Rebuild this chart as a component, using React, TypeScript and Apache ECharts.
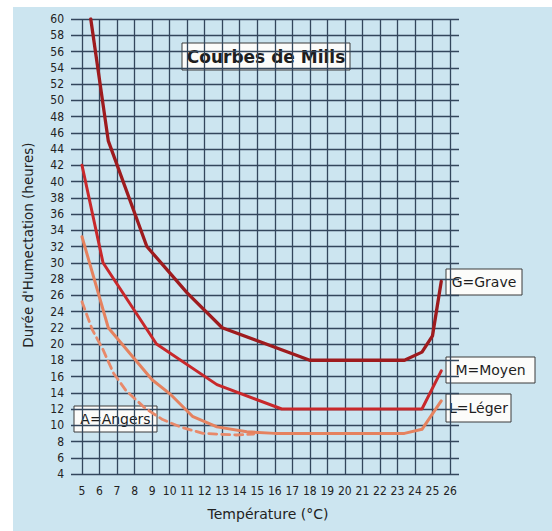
import React, { useEffect, useRef } from "react";
import * as echarts from "echarts";

// Temperature (°C) vs wetting duration (hours)
const grave: [number, number][] = [
  [5.5, 60], [6.5, 45], [8.7, 32], [11, 26.3], [13, 22], [18, 18],
  [23.4, 18], [24.4, 19], [25, 21], [25.5, 27.7],
];
const moyen: [number, number][] = [
  [5, 42], [6.2, 30], [9.25, 20], [12.7, 15], [16.4, 12], [24.4, 12], [25.5, 16.7],
];
const leger: [number, number][] = [
  [5, 33.2], [6.5, 22], [9, 15.6], [10, 13.9], [11.3, 11.1], [12.7, 9.8],
  [14.4, 9.2], [16, 9], [23.4, 9], [24.4, 9.5], [25.5, 13],
];
const angers: [number, number][] = [
  [5, 25.2], [5.6, 21.7], [6.2, 19.3], [6.8, 16.4], [7.5, 14.3], [8.6, 12.1],
  [9.6, 10.7], [10.6, 9.8], [11.9, 9.0], [13.8, 8.8], [14.8, 8.9],
];

const xMin = 5, xMax = 26, xStep = 1;
const yMin = 4, yMax = 60, yStep = 2;

const TICK_FONT = "'Liberation Sans Narrow','DejaVu Sans Condensed',Roboto,sans-serif";
const FONT = "'DejaVu Sans',sans-serif";
const GRID_COLOR = "#33465c";

function labelBox(x: number, y: number, w: number, h: number, text: string, size = 14, bold = false) {
  return {
    type: "group",
    x, y, z: 100,
    children: [
      { type: "rect", shape: { x: 0, y: 0, width: w, height: h }, style: { fill: "#fcfcfa", stroke: "#3a3a3a", lineWidth: 1 } },
      {
        type: "text", x: w / 2, y: h / 2,
        style: { text, fill: "#1e1e1e", font: `${bold ? "bold " : ""}${size}px ${FONT}`, textAlign: "center", textVerticalAlign: "middle" },
      },
    ],
  };
}

export default function App() {
  const ref = useRef<HTMLDivElement>(null);
  useEffect(() => {
    if (!ref.current) return;
    const chart = echarts.init(ref.current, undefined, { renderer: "svg" });
    const lineSeries = (name: string, data: [number, number][], color: string, width: number, dashed = false) => ({
      name, type: "line", data, xAxisIndex: 1, yAxisIndex: 1,
      showSymbol: false, symbol: "none", smooth: false,
      lineStyle: { color, width, type: dashed ? [8, 5] : "solid", cap: "round", join: "round" },
      z: 5,
    });
    chart.setOption({
      animation: false,
      backgroundColor: "transparent",
      grid: [
        { left: 71, right: 93, top: 19, bottom: 57 },
        { left: 82, right: 102, top: 19, bottom: 57 },
      ],
      xAxis: [
        { gridIndex: 0, type: "value", min: 0, max: 1, show: false },
        {
          gridIndex: 1, type: "value", min: xMin, max: xMax, interval: xStep,
          axisLine: { show: false }, axisTick: { show: false },
          splitLine: { show: true, lineStyle: { color: GRID_COLOR, width: 1.3 } },
          axisLabel: { margin: 11, fontSize: 12, color: "#222", fontFamily: TICK_FONT },
        },
      ],
      yAxis: [
        {
          gridIndex: 0, type: "value", min: yMin, max: yMax, interval: yStep,
          axisLine: { show: false }, axisTick: { show: false },
          splitLine: { show: true, lineStyle: { color: GRID_COLOR, width: 1.3 } },
          axisLabel: { margin: 7, fontSize: 12, color: "#222", fontFamily: TICK_FONT },
        },
        { gridIndex: 1, type: "value", min: yMin, max: yMax, interval: yStep, show: false, splitLine: { show: false } },
      ],
      series: [
        lineSeries("A=Angers", angers, "#e8896a", 2.8, true),
        lineSeries("L=Léger", leger, "#e5825f", 3),
        lineSeries("M=Moyen", moyen, "#c8282b", 3),
        lineSeries("G=Grave", grave, "#9e1b1e", 3.3),
      ],
      graphic: [
        {
          type: "rect", z: -10, silent: true,
          shape: { x: 13, y: 7, width: 552 - 13, height: 531 - 7 },
          style: { fill: "#cce5f0" },
        },
        labelBox(182, 43, 168, 27, "Courbes de Mills", 17, true),
        labelBox(446, 269, 76, 26, "G=Grave"),
        labelBox(446, 357, 89, 26, "M=Moyen"),
        labelBox(446, 394, 65, 28, "L=Léger"),
        labelBox(74, 406, 83, 26, "A=Angers"),
        {
          type: "text", x: 28, y: 245, rotation: Math.PI / 2, z: 50,
          style: { text: "Durée d'Humectation (heures)", fill: "#222", font: `13.5px ${FONT}`, textAlign: "center", textVerticalAlign: "middle" },
        },
        {
          type: "text", x: 268, y: 514, z: 50,
          style: { text: "Température (°C)", fill: "#222", font: `14px ${FONT}`, textAlign: "center", textVerticalAlign: "middle" },
        },
      ],
    });
    return () => chart.dispose();
  }, []);
  return (
    <div style={{ position: "fixed", left: 0, top: 0, width: 552, height: 531, background: "#ffffff" }}>
      <div ref={ref} style={{ width: 552, height: 531 }} />
    </div>
  );
}
